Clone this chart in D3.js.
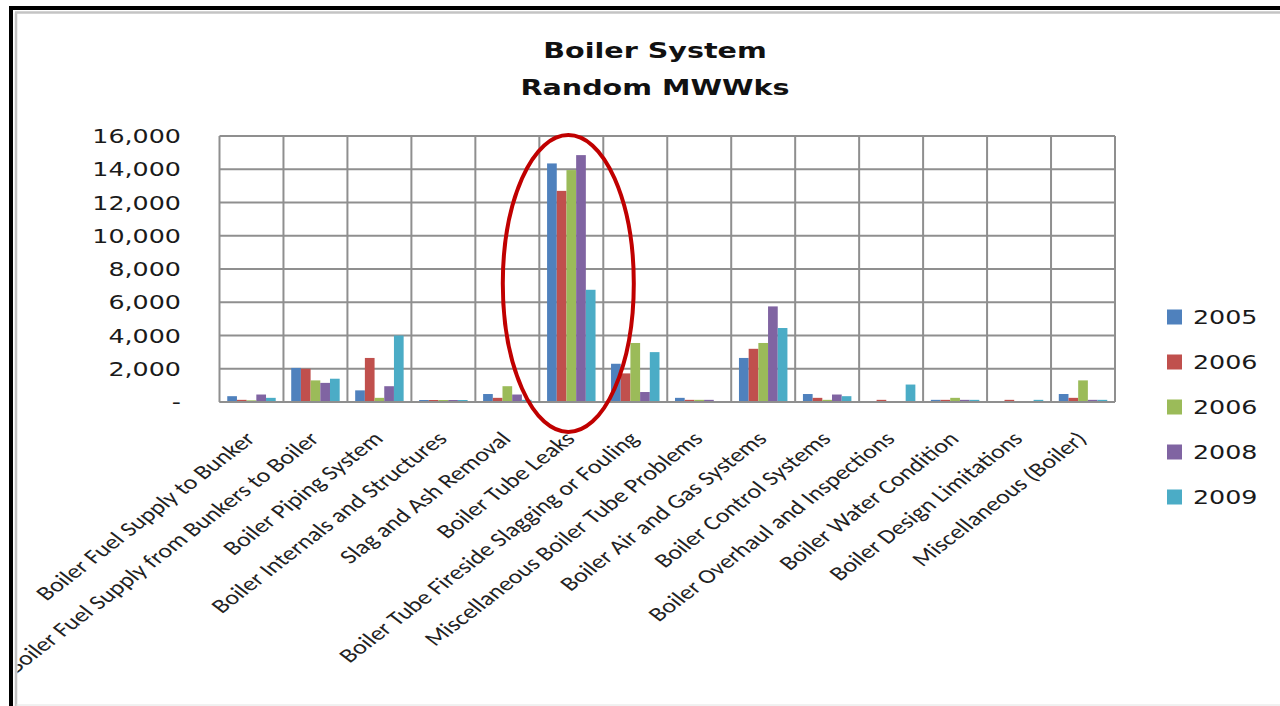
<!DOCTYPE html>
<html><head><meta charset="utf-8">
<script src="https://cdn.jsdelivr.net/npm/d3@7"></script>
<style>body{margin:0;background:#fff;overflow:hidden}</style>
</head><body>
<svg id="c" width="1280" height="706"></svg>
<script>
const titleLines = ["Boiler System", "Random MWWks"];
const categories = [
  "Boiler Fuel Supply to Bunker",
  "Boiler Fuel Supply from Bunkers to Boiler",
  "Boiler Piping System",
  "Boiler Internals and Structures",
  "Slag and Ash Removal",
  "Boiler Tube Leaks",
  "Boiler Tube Fireside Slagging or Fouling",
  "Miscellaneous Boiler Tube Problems",
  "Boiler Air and Gas Systems",
  "Boiler Control Systems",
  "Boiler Overhaul and Inspections",
  "Boiler Water Condition",
  "Boiler Design Limitations",
  "Miscellaneous (Boiler)"
];
const seriesNames = ["2005", "2006", "2006", "2008", "2009"];
const s2005  = [350, 2050, 700, 120, 480, 14350, 2300, 250, 2650, 480, 0, 130, 0, 480];
const s2006a = [130, 2000, 2650, 120, 250, 12700, 1720, 130, 3200, 250, 130, 130, 130, 250];
const s2006b = [100, 1300, 250, 120, 950, 13950, 3550, 130, 3550, 130, 0, 250, 0, 1300];
const s2008  = [450, 1150, 950, 120, 450, 14850, 600, 130, 5750, 450, 0, 130, 0, 130];
const s2009  = [250, 1400, 4000, 120, 130, 6750, 3000, 0, 4450, 350, 1050, 130, 130, 130];
const yTicks = [0, 2000, 4000, 6000, 8000, 10000, 12000, 14000, 16000];
const colors = ["#4F81BD", "#C0504D", "#9BBB59", "#8064A2", "#4BACC6"];
const highlightCategory = "Boiler Tube Leaks";

const series = [s2005, s2006a, s2006b, s2008, s2009];
const SX = 1.3; // horizontal stretch of the original picture
const svg = d3.select("#c");

svg.append("defs").append("clipPath").attr("id", "inner")
  .append("rect").attr("x", 17.5).attr("y", 14).attr("width", 1270).attr("height", 700);

// frame
svg.append("line").attr("x1", 11).attr("y1", 720).attr("x2", 11).attr("y2", 8).attr("stroke", "#000").attr("stroke-width", 4);
svg.append("line").attr("x1", 9).attr("y1", 8).attr("x2", 1290).attr("y2", 8).attr("stroke", "#000").attr("stroke-width", 4);
svg.append("line").attr("x1", 16).attr("y1", 720).attr("x2", 16).attr("y2", 12.5).attr("stroke", "#c4c4c4").attr("stroke-width", 2.5);
svg.append("line").attr("x1", 15).attr("y1", 12.5).attr("x2", 1290).attr("y2", 12.5).attr("stroke", "#c4c4c4").attr("stroke-width", 2.5);
svg.append("line").attr("x1", 16).attr("y1", 705).attr("x2", 1290).attr("y2", 705).attr("stroke", "#e2e2e2").attr("stroke-width", 1);

const x = d3.scaleBand().domain(categories).range([219.5, 1115]).padding(0);
const x1 = d3.scaleBand().domain(d3.range(seriesNames.length)).range([0, x.bandwidth()]).paddingInner(0).paddingOuter(0.8);
const y = d3.scaleLinear().domain([0, 16000]).range([402, 136]);

const grid = svg.append("g").attr("stroke", "#8f8f8f").attr("stroke-width", 2);
grid.selectAll("line.h").data(yTicks).join("line")
  .attr("x1", x.range()[0]).attr("x2", x.range()[1])
  .attr("y1", d => y(d)).attr("y2", d => y(d));
grid.selectAll("line.v").data(categories.map(c => x(c)).concat([x.range()[1]])).join("line")
  .attr("class", "v")
  .attr("x1", d => d).attr("x2", d => d)
  .attr("y1", y(16000)).attr("y2", y(0));

// bars
const groups = svg.append("g").selectAll("g").data(categories).join("g")
  .attr("transform", c => `translate(${x(c)},0)`);
groups.selectAll("rect").data((c, ci) => series.map((s, si) => ({ si, v: s[ci] }))).join("rect")
  .attr("x", d => x1(d.si)).attr("width", x1.bandwidth())
  .attr("y", d => y(d.v)).attr("height", d => y(0) - y(d.v))
  .attr("fill", d => colors[d.si]);

svg.append("line").attr("x1", x.range()[0]).attr("x2", x.range()[1])
  .attr("y1", y(0)).attr("y2", y(0)).attr("stroke", "#8f8f8f").attr("stroke-width", 2);

// y axis labels
const fmt = d3.format(",");
svg.append("g").selectAll("text").data(yTicks).join("text")
  .attr("transform", d => `translate(181,${y(d)}) scale(${SX},1)`)
  .attr("dy", "0.36em").attr("text-anchor", "end")
  .attr("font-family", "DejaVu Sans, Verdana, sans-serif").attr("font-size", 19.5)
  .attr("fill", "#1a1a1a")
  .text(d => d === 0 ? "-" : fmt(d));

// category labels (clipped by the chart frame, as in the original)
svg.append("g").attr("clip-path", "url(#inner)").selectAll("text").data(categories).join("text")
  .attr("transform", c => `translate(${x(c) + x.bandwidth() / 2 + 5},${y(0) + 38}) scale(${SX},1) rotate(-45)`)
  .attr("text-anchor", "end")
  .attr("font-family", "Carlito, Calibri, 'Open Sans', sans-serif").attr("font-size", 20)
  .attr("fill", "#222")
  .text(c => c);

// title
svg.append("g").selectAll("text").data(titleLines).join("text")
  .attr("transform", (d, i) => `translate(655,${58 + i * 37}) scale(${SX},1)`)
  .attr("text-anchor", "middle")
  .attr("font-family", "DejaVu Sans, Verdana, sans-serif").attr("font-weight", "bold").attr("font-size", 22)
  .attr("fill", "#111")
  .text(d => d);

// legend
const ly = d3.scalePoint().domain(d3.range(seriesNames.length)).range([317, 497]);
const lg = svg.append("g").selectAll("g").data(seriesNames).join("g")
  .attr("transform", (d, i) => `translate(1167,${ly(i)})`);
lg.append("rect").attr("x", 0).attr("y", -7.5).attr("width", 15).attr("height", 15)
  .attr("fill", (d, i) => colors[i]);
lg.append("text").attr("transform", `translate(26,0) scale(${SX},1)`)
  .attr("dy", "0.36em")
  .attr("font-family", "DejaVu Sans, Verdana, sans-serif").attr("font-size", 19.5)
  .attr("fill", "#1a1a1a")
  .text(d => d);

// highlight ellipse around the Boiler Tube Leaks group
const hx = x(highlightCategory) + x.bandwidth() / 2 - 3;
const hTop = y(16000) - 1, hBot = y(-1800);
svg.append("ellipse")
  .attr("cx", hx).attr("cy", (hTop + hBot) / 2)
  .attr("rx", 65.5).attr("ry", (hBot - hTop) / 2)
  .attr("fill", "none").attr("stroke", "#C00000").attr("stroke-width", 4);
</script>
</body></html>
